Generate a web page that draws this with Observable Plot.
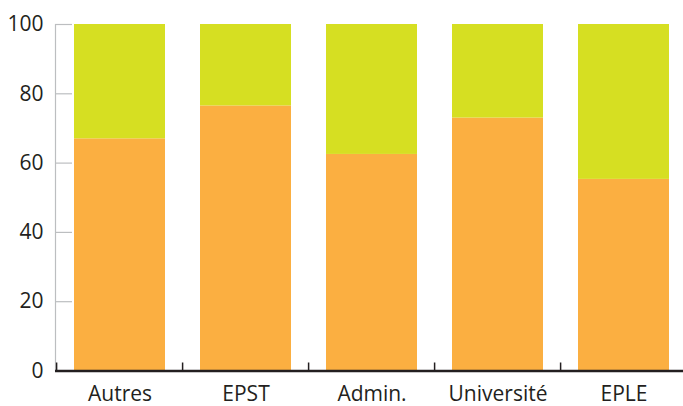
<!DOCTYPE html>
<html>
<head>
<meta charset="utf-8">
<script src="https://cdn.jsdelivr.net/npm/d3@7"></script>
<script src="https://cdn.jsdelivr.net/npm/@observablehq/plot@0.6"></script>
<style>
  html, body { margin: 0; padding: 0; background: #fff; overflow: hidden; }
  #chart svg { display: block; }
</style>
</head>
<body>
<div id="chart"></div>
<script>
// Categories along the x axis
const categories = ["Autres", "EPST", "Admin.", "Université", "EPLE"];
// Stacked shares (percent), bottom segment then top segment
const lowerShare = [67, 76.5, 62.5, 73, 55.3];
const upperShare = [33, 23.5, 37.5, 27, 44.7];
const seriesNames = ["bas", "haut"];
const seriesColors = ["#FBAF41", "#D6DF22"];
// Y axis tick values
const yTicks = [0, 20, 40, 60, 80, 100];

const rows = categories.flatMap((c, i) => [
  {category: c, series: seriesNames[0], value: lowerShare[i]},
  {category: c, series: seriesNames[1], value: upperShare[i]}
]);

const width = 683, height = 406;
const marginLeft = 55, marginRight = -6, marginTop = 24, marginBottom = 35.5;
const step = (width - marginLeft - marginRight) / categories.length;

const ink = "#231F20";
const grey = "#BCBEC0";

const chart = Plot.plot({
  width, height, marginLeft, marginRight, marginTop, marginBottom,
  style: {fontFamily: "'Open Sans', sans-serif", fontSize: "21px", color: ink, background: "#fff"},
  x: {domain: categories, paddingInner: 0.274, paddingOuter: 0.137, label: null},
  y: {domain: [0, 100], label: null},
  color: {domain: seriesNames, range: seriesColors},
  marks: [
    Plot.barY(rows, {x: "category", y: "value", fill: "series", order: seriesNames}),
    // left axis line
    Plot.frame({anchor: "left", stroke: grey, strokeWidth: 1.2}),
    // inward grey ticks
    Plot.axisY({ticks: yTicks, tickSize: -17, tickFormat: () => "", stroke: grey, strokeWidth: 1.2, label: null}),
    // y labels
    Plot.axisY({ticks: yTicks, tickSize: 0, tickPadding: 12, fill: ink, label: null}),
    // baseline
    Plot.ruleY([0], {stroke: ink, strokeWidth: 2.5}),
    // short upward ticks between categories
    Plot.axisX({tickSize: -8, dx: -step / 2, tickFormat: () => "", stroke: ink, strokeWidth: 1.5, label: null}),
    // category labels
    Plot.axisX({tickSize: 0, tickPadding: 15, fill: ink, label: null})
  ]
});

document.getElementById("chart").appendChild(chart);
</script>
</body>
</html>
